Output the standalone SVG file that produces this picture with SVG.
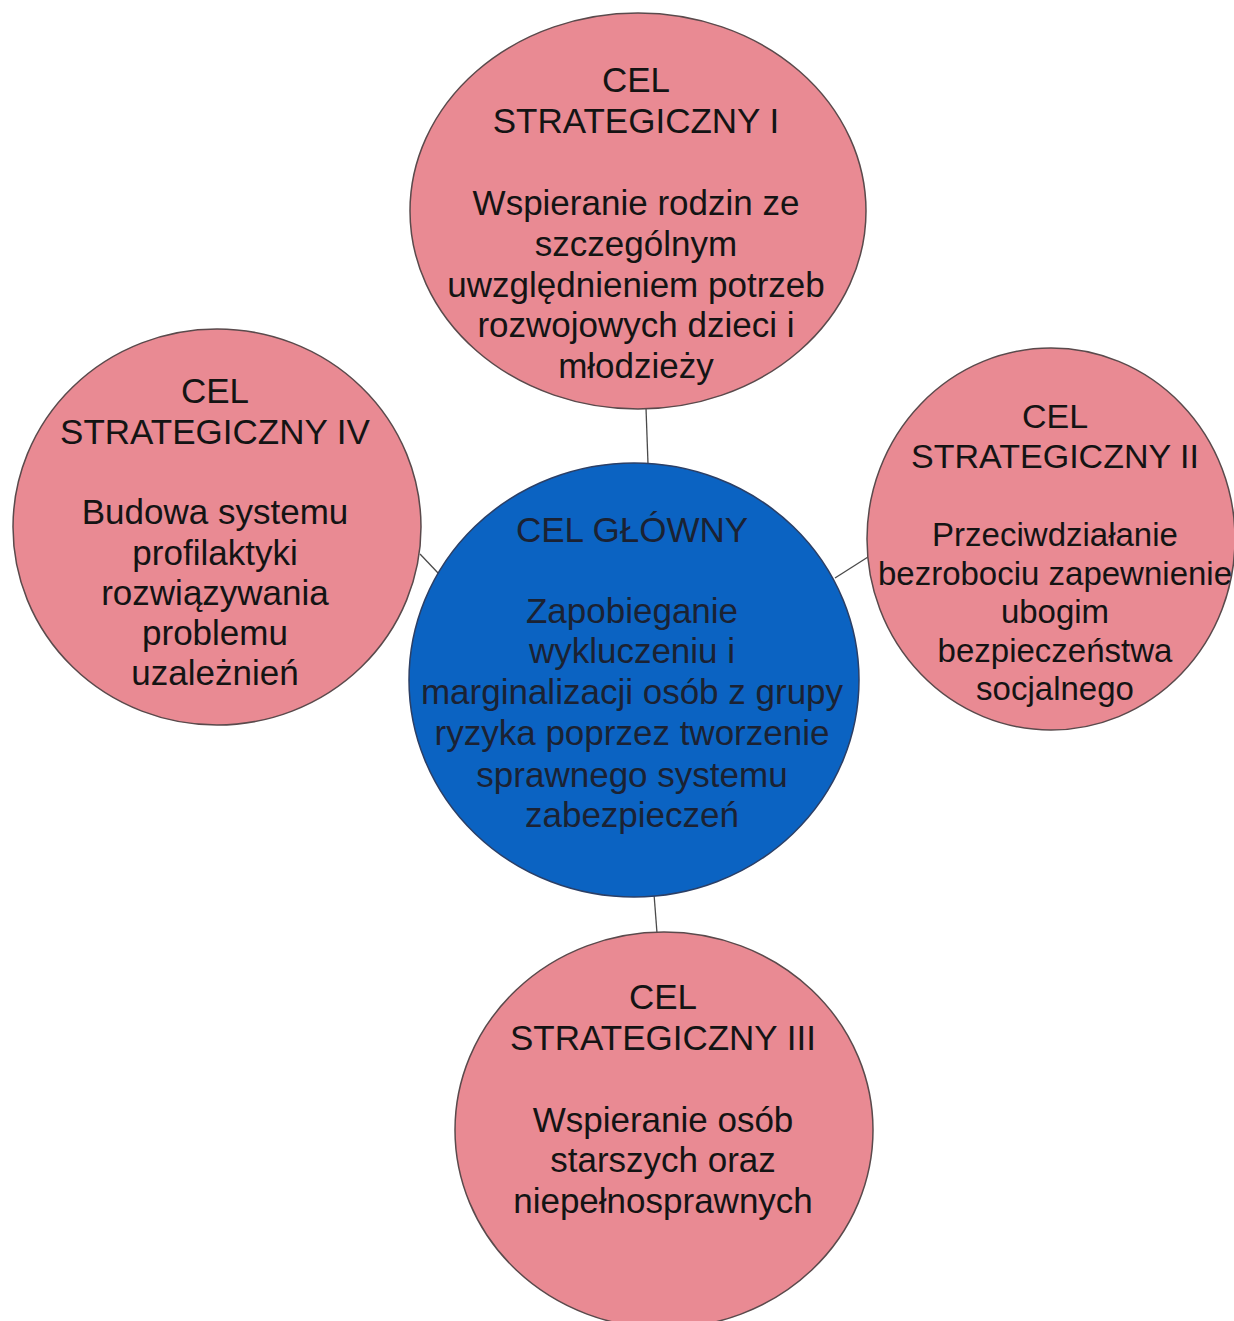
<svg xmlns="http://www.w3.org/2000/svg" width="1234" height="1321" viewBox="0 0 1234 1321">
<style>
.pink{fill:#e98a93;stroke:#5a4a4c;stroke-width:1.5}
.blue{fill:#0b63c2;stroke:#2b3f66;stroke-width:1.5}
.t{font-family:"Liberation Sans",Arial,sans-serif;font-size:35px;fill:#141414;text-anchor:middle}
.tc{font-family:"Liberation Sans",Arial,sans-serif;font-size:35px;fill:#1b2233;text-anchor:middle}
.conn{stroke:#4a4a4a;stroke-width:1.3;fill:none}
</style>
<rect width="1234" height="1321" fill="#ffffff"/>
<g id="connectors">
<line class="conn" x1="646" y1="408" x2="648" y2="464"/>
<line class="conn" x1="420" y1="554" x2="439" y2="574"/>
<line class="conn" x1="835" y1="578" x2="868" y2="557"/>
<line class="conn" x1="654" y1="894" x2="657" y2="933"/>
</g>
<g id="cel-1">
<ellipse class="pink" cx="638" cy="211" rx="228" ry="198"/>
<text class="t" x="636" y="92">CEL</text>
<text class="t" x="636" y="133">STRATEGICZNY I</text>
<text class="t" x="636" y="215">Wspieranie rodzin ze</text>
<text class="t" x="636" y="256">szczególnym</text>
<text class="t" x="636" y="297">uwzględnieniem potrzeb</text>
<text class="t" x="636" y="337">rozwojowych dzieci i</text>
<text class="t" x="636" y="378">młodzieży</text>
</g>
<g id="cel-4">
<ellipse class="pink" cx="217" cy="527" rx="204" ry="198"/>
<text class="t" x="215" y="403">CEL</text>
<text class="t" x="215" y="444">STRATEGICZNY IV</text>
<text class="t" x="215" y="524">Budowa systemu</text>
<text class="t" x="215" y="565">profilaktyki</text>
<text class="t" x="215" y="605">rozwiązywania</text>
<text class="t" x="215" y="645">problemu</text>
<text class="t" x="215" y="685">uzależnień</text>
</g>
<g id="cel-2">
<ellipse class="pink" cx="1051" cy="539" rx="184" ry="191"/>
<text class="t" x="1055" y="428" style="font-size:34px">CEL</text>
<text class="t" x="1055" y="468" style="font-size:34px">STRATEGICZNY II</text>
<text class="t" x="1055" y="546" style="font-size:33px">Przeciwdziałanie</text>
<text class="t" x="1055" y="585" style="font-size:33px">bezrobociu zapewnienie</text>
<text class="t" x="1055" y="623" style="font-size:33px">ubogim</text>
<text class="t" x="1055" y="662" style="font-size:33px">bezpieczeństwa</text>
<text class="t" x="1055" y="700" style="font-size:33px">socjalnego</text>
</g>
<g id="cel-glowny">
<ellipse class="blue" cx="634" cy="680" rx="225" ry="217"/>
<text class="tc" x="632" y="542">CEL GŁÓWNY</text>
<text class="tc" x="632" y="623">Zapobieganie</text>
<text class="tc" x="632" y="663">wykluczeniu i</text>
<text class="tc" x="632" y="704">marginalizacji osób z grupy</text>
<text class="tc" x="632" y="745">ryzyka poprzez tworzenie</text>
<text class="tc" x="632" y="787">sprawnego systemu</text>
<text class="tc" x="632" y="827">zabezpieczeń</text>
</g>
<g id="cel-3">
<ellipse class="pink" cx="664" cy="1130" rx="209" ry="198"/>
<text class="t" x="663" y="1009">CEL</text>
<text class="t" x="663" y="1050">STRATEGICZNY III</text>
<text class="t" x="663" y="1132">Wspieranie osób</text>
<text class="t" x="663" y="1172">starszych oraz</text>
<text class="t" x="663" y="1213">niepełnosprawnych</text>
</g>
</svg>
